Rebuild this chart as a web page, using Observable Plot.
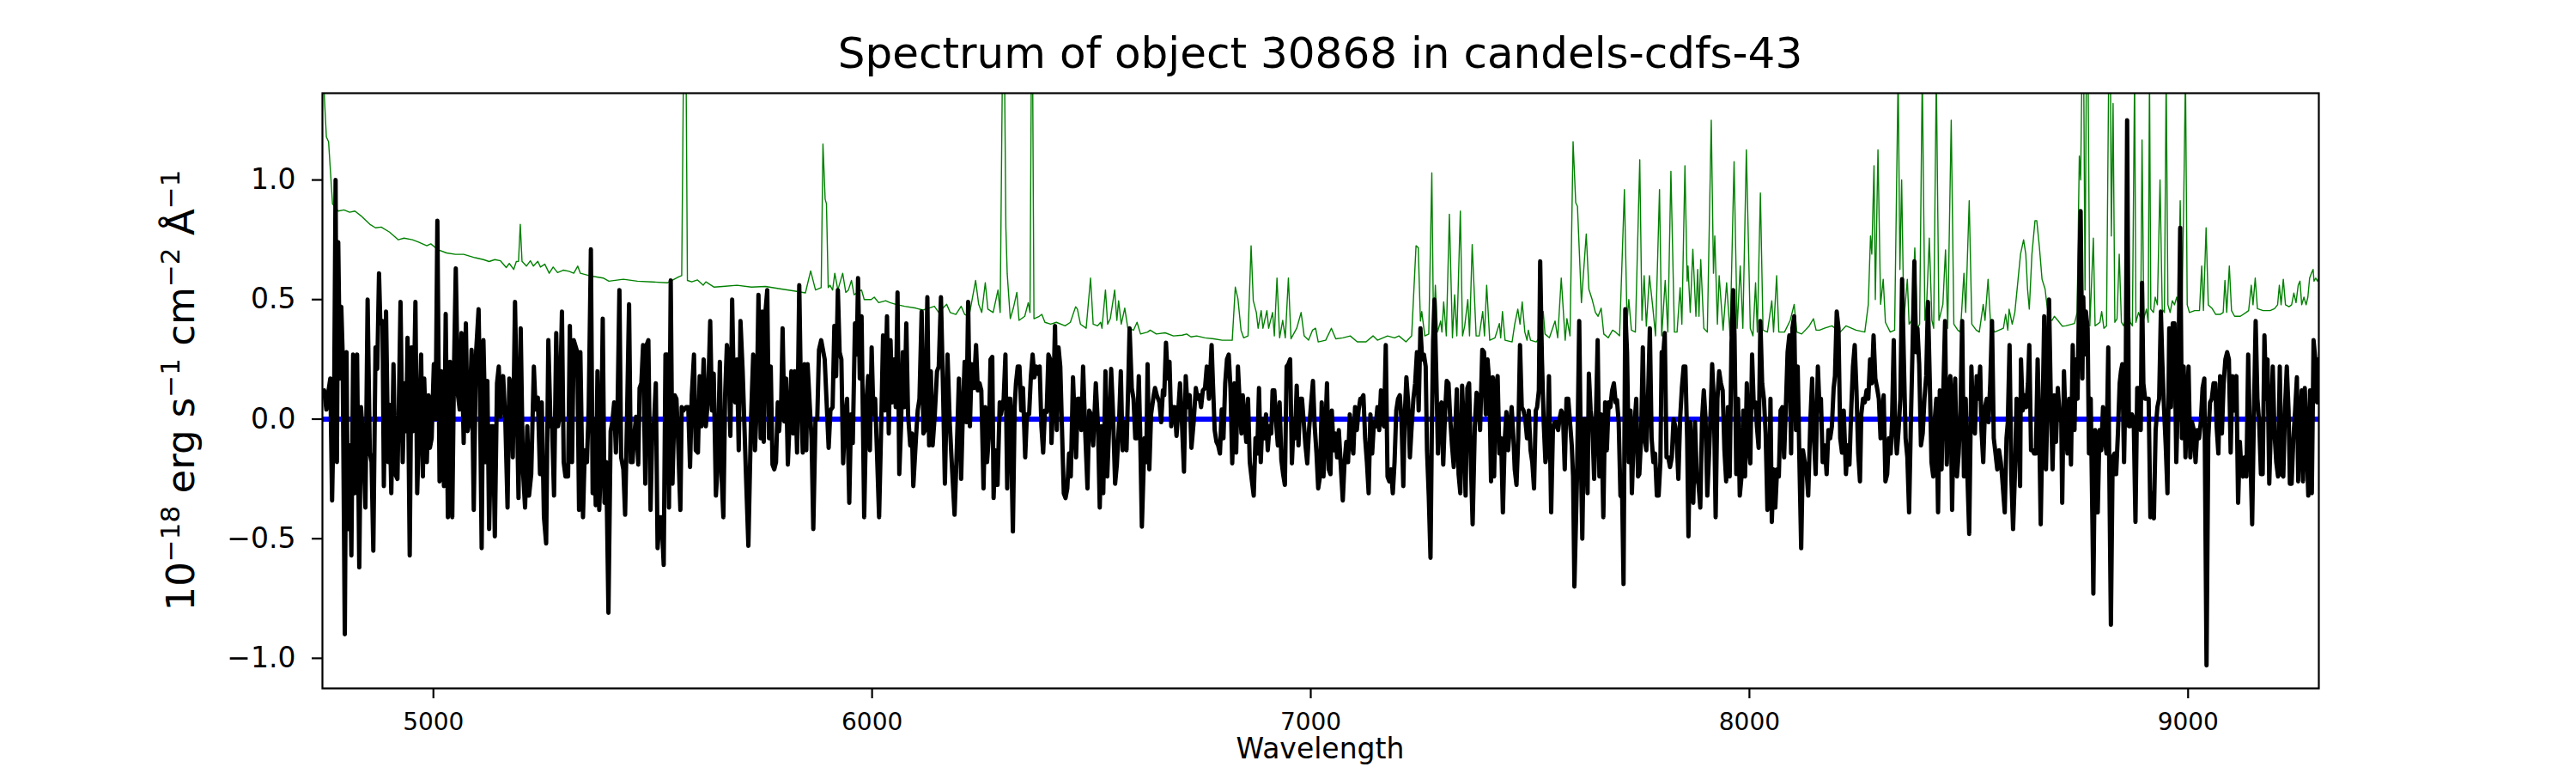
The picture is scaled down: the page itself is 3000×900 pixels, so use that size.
<!DOCTYPE html>
<html><head><meta charset="utf-8">
<script src="https://cdn.jsdelivr.net/npm/d3@7"></script>
<script src="https://cdn.jsdelivr.net/npm/@observablehq/plot@0.6"></script>
<style>
html,body{margin:0;padding:0;background:#fff;}
#chart{width:3000px;height:900px;}
</style></head><body><div id="chart"></div>
<script>
const titleText = "Spectrum of object 30868 in candels-cdfs-43";
const xLabelText = "Wavelength";
const xTicks = [5000, 6000, 7000, 8000, 9000];
const yTicks = [-1.0, -0.5, 0.0, 0.5, 1.0];
const xDomain = [4747, 9298];
const yDomain = [-1.126, 1.363];

// observed flux (black)
const flux = [
[4751,0.12],[4756,0.04],[4761,0.12],[4765,0.17],[4769,-0.34],[4774,0.17],[4777,1.00],[4780,-0.18],[4783,0.74],[4787,0.17],[4790,0.47],[4793,0.28],[4798,-0.90],[4802,0.28],[4805,-0.46],[4809,-0.11],[4813,-0.57],[4817,0.27],[4821,-0.31],[4826,0.27],[4831,-0.62],[4835,0.05],[4840,-0.10],[4845,-0.37],[4850,0.50],[4855,-0.14],[4859,-0.18],[4863,-0.55],[4868,0.30],[4872,0.21],[4876,0.61],[4879,0.40],[4884,0.41],[4887,-0.28],[4892,0.45],[4897,-0.18],[4900,0.06],[4904,-0.31],[4909,0.23],[4913,-0.23],[4918,-0.25],[4922,0.15],[4925,0.49],[4930,-0.18],[4934,0.15],[4938,-0.05],[4941,0.34],[4946,-0.57],[4950,0.30],[4954,-0.05],[4959,0.49],[4963,-0.31],[4967,-0.05],[4972,0.27],[4976,-0.24],[4979,0.17],[4985,-0.18],[4989,0.10],[4992,-0.12],[4996,-0.08],[5001,0.23],[5005,0.00],[5009,0.83],[5014,-0.26],[5018,0.20],[5024,-0.28],[5028,0.44],[5033,-0.41],[5038,0.24],[5043,-0.41],[5047,0.22],[5051,0.63],[5056,0.10],[5060,0.04],[5064,0.36],[5069,-0.10],[5074,0.40],[5078,-0.05],[5082,-0.01],[5087,0.29],[5092,-0.38],[5097,0.27],[5103,0.46],[5106,0.12],[5110,-0.54],[5114,0.33],[5120,-0.18],[5123,0.16],[5127,-0.46],[5132,-0.03],[5136,-0.03],[5140,-0.49],[5145,0.15],[5149,0.22],[5153,0.01],[5159,0.18],[5164,-0.01],[5169,-0.37],[5173,0.17],[5177,0.14],[5181,-0.16],[5186,0.49],[5190,0.09],[5194,-0.33],[5199,0.38],[5204,-0.21],[5209,-0.37],[5214,-0.03],[5218,-0.32],[5223,-0.23],[5229,0.22],[5233,0.04],[5238,0.09],[5243,-0.23],[5247,0.07],[5252,-0.41],[5257,-0.52],[5262,0.33],[5267,-0.03],[5270,0.00],[5275,-0.32],[5280,0.36],[5284,-0.03],[5288,0.02],[5293,0.45],[5297,-0.18],[5301,-0.24],[5307,-0.24],[5311,0.39],[5316,-0.18],[5320,0.33],
[5328,0.28],[5332,-0.38],[5335,0.28],[5341,-0.41],[5345,-0.13],[5350,-0.18],[5354,0.05],[5359,0.71],[5363,-0.31],[5367,0.00],[5370,-0.36],[5374,0.20],[5378,-0.38],[5382,-0.18],[5386,0.42],[5390,-0.35],[5394,-0.18],[5399,-0.81],[5404,-0.05],[5408,-0.01],[5412,0.07],[5416,-0.14],[5420,0.07],[5424,0.54],[5428,-0.16],[5433,-0.21],[5437,-0.40],[5441,-0.03],[5446,0.48],[5450,-0.18],[5454,-0.18],[5457,-0.08],[5462,0.01],[5467,-0.19],[5470,0.13],[5474,0.15],[5478,0.31],[5483,-0.27],[5486,0.31],[5490,0.33],[5495,-0.38],[5499,-0.05],[5503,-0.01],[5507,0.15],[5511,-0.54],[5516,-0.41],[5520,-0.41],[5525,-0.61],[5529,0.27],[5533,0.27],[5537,-0.37],[5541,0.58],[5545,-0.27],[5550,0.10],[5554,0.085],[5557,-0.05],[5563,-0.38],[5566,0.05],[5570,0.036],[5576,0.05],[5581,0.05],[5585,-0.20],[5589,0.10],[5594,0.27],[5598,-0.13],[5603,-0.14],[5607,0.18],[5611,-0.03],[5616,0.25],[5621,-0.03],[5626,0.085],[5631,0.41],[5635,0.036],[5639,0.19],[5644,-0.32],[5648,-0.19],[5653,0.24],[5657,-0.24],[5661,-0.41],[5665,0.10],[5669,0.31],[5673,0.25],[5677,-0.07],[5681,0.50],[5685,0.10],[5688,0.07],[5692,0.25],[5696,-0.13],[5700,0.41],[5705,0.20],[5709,-0.03],[5713,-0.26],[5718,-0.53],[5724,0.00],[5729,0.27],[5733,-0.13],[5737,0.05],[5741,0.52],[5746,-0.08],[5750,0.45],[5753,-0.095],[5757,0.45],[5761,0.54],[5765,-0.08],[5769,0.22],[5773,-0.19],[5777,-0.21],[5781,-0.18],[5785,0.07],[5788,-0.05],[5793,0.085],[5796,0.38],[5800,-0.01],[5804,0.17],[5808,-0.19],[5812,-0.01],[5816,0.20],[5820,-0.06],[5824,0.20],[5829,-0.14],[5834,0.56],[5838,0.085],[5842,-0.14],[5846,0.23],[5850,-0.13],[5853,0.23],[5859,0.02],[5862,-0.08],[5866,-0.46],[5871,0.00],[5875,0.00],[5879,0.29],[5884,0.33],
[5892,0.25],[5896,0.085],[5901,-0.12],[5905,0.036],[5910,0.05],[5914,0.39],[5918,0.18],[5922,0.54],[5926,0.28],[5930,0.25],[5934,-0.185],[5938,-0.01],[5943,0.085],[5948,-0.35],[5952,0.02],[5956,-0.10],[5961,0.40],[5965,0.27],[5968,0.59],[5972,0.17],[5976,0.43],[5982,-0.41],[5987,0.07],[5991,0.18],[5995,-0.13],[5999,0.30],[6003,0.02],[6007,0.085],[6011,-0.13],[6016,-0.41],[6021,-0.01],[6025,0.35],[6029,0.036],[6034,0.43],[6038,-0.06],[6042,0.33],[6046,0.07],[6050,0.25],[6054,0.05],[6058,0.53],[6062,-0.23],[6066,-0.03],[6070,0.28],[6074,0.05],[6078,0.40],[6082,0.02],[6087,-0.11],[6091,-0.06],[6094,-0.28],[6100,-0.08],[6104,0.036],[6108,0.085],[6113,0.45],[6117,-0.06],[6121,-0.046],[6126,0.51],[6130,-0.11],[6134,0.20],[6138,-0.11],[6143,0.02],[6148,0.20],[6152,0.22],[6157,0.51],[6162,0.10],[6166,-0.27],[6172,0.27],[6177,-0.013],[6181,-0.16],[6188,-0.40],[6192,-0.19],[6198,0.17],[6203,-0.25],[6207,0.036],[6211,0.24],[6215,-0.013],[6219,0.49],[6223,-0.03],[6227,0.23],[6232,0.13],[6237,0.31],[6241,0.12],[6245,0.15],[6249,0.12],[6254,-0.29],[6258,0.05],[6262,-0.18],[6266,-0.08],[6270,0.25],[6274,0.26],[6277,-0.33],[6281,-0.13],[6286,-0.275],[6291,0.07],[6294,0.02],[6300,0.085],[6304,0.27],[6308,-0.29],[6311,0.085],[6315,0.085],[6321,-0.47],[6325,0.05],[6328,0.15],[6332,0.22],[6336,0.22],[6340,0.036],[6344,0.13],[6349,-0.16],[6353,0.02],[6358,0.02],[6362,0.18],[6366,0.27],[6370,0.175],[6374,0.22],[6378,0.19],[6382,0.22],[6386,-0.03],[6390,-0.14],[6394,0.036],[6398,0.03],[6402,0.27],[6406,0.25],[6409,-0.10],[6413,0.085],[6417,0.39],[6421,-0.046],[6425,0.30],[6429,0.22],[6433,-0.046],[6437,-0.31],[6441,-0.33],[6445,-0.29],[6449,-0.144],[6453,-0.24],[6458,0.175],
[6465,-0.16],[6469,0.085],[6473,0.085],[6477,-0.046],[6481,0.22],[6486,-0.06],[6491,-0.29],[6495,0.036],[6499,0.02],[6504,-0.11],[6510,0.15],[6515,-0.03],[6519,-0.37],[6523,-0.03],[6527,-0.31],[6532,0.20],[6536,-0.24],[6541,-0.013],[6545,0.21],[6549,0.036],[6554,-0.27],[6558,-0.19],[6563,-0.013],[6567,0.20],[6571,-0.13],[6576,-0.013],[6580,-0.13],[6584,0.15],[6587,0.38],[6592,0.13],[6596,0.085],[6600,-0.08],[6604,-0.08],[6608,0.18],[6611,-0.046],[6615,-0.45],[6621,-0.08],[6625,-0.18],[6628,0.23],[6632,-0.21],[6636,0.02],[6642,0.10],[6645,0.13],[6649,0.10],[6655,0.07],[6659,-0.013],[6663,0.12],[6666,0.10],[6670,0.32],[6674,0.17],[6678,0.24],[6682,-0.03],[6686,0.05],[6690,0.05],[6694,-0.07],[6698,0.036],[6702,0.15],[6706,0.00],[6711,-0.22],[6715,0.18],[6719,0.05],[6724,0.10],[6728,-0.12],[6733,-0.013],[6738,0.13],[6742,0.085],[6746,0.10],[6750,0.05],[6754,0.12],[6759,0.13],[6763,0.22],[6768,0.085],[6774,0.31],[6777,0.15],[6781,-0.046],[6785,-0.095],[6789,-0.11],[6793,-0.144],[6797,0.04],[6801,-0.08],[6805,0.15],[6809,0.25],[6813,0.27],[6817,0.13],[6821,-0.185],[6826,0.15],[6830,-0.14],[6834,0.22],[6838,0.07],[6842,-0.06],[6845,0.10],[6849,0.00],[6853,-0.095],[6857,0.085],[6861,-0.18],[6866,-0.26],[6870,-0.32],[6874,-0.08],[6878,-0.144],[6882,0.13],[6886,-0.18],[6890,0.00],[6894,-0.08],[6898,0.02],[6902,-0.13],[6906,-0.03],[6910,-0.06],[6913,0.12],[6917,0.12],[6921,-0.013],[6925,-0.11],[6929,0.07],[6933,-0.17],[6937,-0.23],[6941,-0.275],[6945,0.22],[6949,0.23],[6953,0.25],[6957,-0.185],[6961,-0.013],[6964,-0.08],[6968,0.14],[6972,-0.11],[6976,0.085],[6980,0.085],[6984,-0.013],[6988,-0.11],[6992,-0.185],[6996,-0.046],[7001,0.07],[7005,0.16],[7009,-0.03],[7013,-0.14],[7017,-0.29],[7021,-0.24],[7025,0.07],
[7029,-0.24],[7033,-0.06],[7037,0.15],[7041,-0.21],[7045,-0.23],[7048,0.036],[7052,-0.13],[7056,-0.06],[7060,-0.16],[7064,-0.046],[7068,-0.18],[7073,-0.34],[7077,-0.18],[7081,-0.095],[7085,-0.18],[7089,0.02],[7093,-0.095],[7097,-0.144],[7101,0.05],[7105,-0.046],[7109,0.036],[7113,0.085],[7116,0.085],[7120,0.10],[7124,-0.08],[7128,-0.18],[7132,-0.31],[7136,0.02],[7140,-0.144],[7144,-0.013],[7148,-0.03],[7152,0.05],[7156,-0.046],[7160,0.12],[7163,-0.013],[7167,-0.03],[7171,0.31],[7175,-0.24],[7179,-0.26],[7183,-0.21],[7187,-0.31],[7191,-0.18],[7195,0.036],[7199,0.085],[7203,0.10],[7207,-0.013],[7211,-0.28],[7214,0.00],[7218,0.175],[7222,0.07],[7226,-0.16],[7230,-0.03],[7234,0.085],[7238,0.15],[7242,0.28],[7246,0.036],[7250,0.38],[7254,0.25],[7258,0.27],[7262,0.22],[7265,-0.13],[7269,-0.32],[7273,-0.58],[7276,-0.046],[7279,0.33],[7282,0.50],[7286,0.20],[7290,-0.144],[7294,0.05],[7298,0.07],[7302,-0.19],[7306,0.02],[7310,0.16],[7314,0.15],[7318,0.00],[7322,-0.11],[7326,-0.20],[7330,-0.013],[7333,0.125],[7337,-0.23],[7341,-0.31],[7345,0.14],[7349,-0.046],[7353,-0.32],[7357,0.13],[7361,0.15],[7365,-0.18],[7369,-0.44],[7374,-0.03],[7378,0.11],[7382,0.085],[7386,-0.046],[7391,0.29],[7395,0.28],[7399,0.02],[7403,0.25],[7407,0.15],[7411,-0.26],[7415,0.175],[7418,-0.24],[7422,0.13],[7426,0.18],[7430,-0.144],[7434,-0.08],[7438,-0.39],[7442,-0.095],[7446,0.03],[7450,-0.13],[7454,-0.03],[7458,0.05],[7462,-0.08],[7465,-0.21],[7469,-0.275],[7473,-0.08],[7477,0.31],[7481,0.05],[7485,0.036],[7489,0.00],[7493,-0.08],[7497,0.036],[7501,-0.13],[7505,-0.18],[7509,-0.29],[7513,0.036],[7516,0.05],[7520,0.12],[7523,0.66],[7527,0.25],[7531,-0.013],[7535,-0.18],[7539,-0.13],[7543,0.18],[7548,-0.39],[7552,-0.046],[7556,-0.013],[7560,-0.013],[7564,-0.046],[7567,0.00],[7571,0.036],[7575,0.02],[7579,-0.21],[7583,0.085],[7587,0.085],[7591,-0.013],[7595,-0.11],[7598,-0.24],[7601,-0.70],
[7607,-0.24],[7612,0.41],[7616,-0.18],[7619,-0.50],[7623,0.00],[7627,0.00],[7631,-0.31],[7634,0.19],[7638,0.036],[7642,-0.03],[7646,-0.25],[7650,0.00],[7654,0.33],[7658,-0.24],[7662,0.02],[7667,-0.41],[7671,0.07],[7675,-0.13],[7679,0.07],[7683,0.05],[7687,0.12],[7691,0.15],[7695,0.07],[7698,0.08],[7702,-0.013],[7706,-0.32],[7710,-0.33],[7713,-0.69],[7717,0.46],[7721,0.28],[7725,-0.18],[7729,0.036],[7732,-0.31],[7736,-0.08],[7742,0.085],[7746,-0.24],[7749,-0.23],[7753,-0.08],[7757,0.30],[7761,-0.08],[7765,-0.13],[7769,0.10],[7773,0.38],[7777,-0.08],[7781,-0.18],[7785,-0.144],[7789,-0.32],[7793,-0.32],[7797,-0.18],[7800,0.28],[7804,0.28],[7807,0.36],[7811,-0.16],[7815,-0.16],[7819,-0.20],[7823,-0.16],[7827,0.00],[7831,-0.03],[7834,-0.08],[7838,-0.25],[7842,0.00],[7846,0.13],[7850,0.22],[7854,0.22],[7858,-0.08],[7861,-0.49],[7865,-0.013],[7868,-0.144],[7872,-0.35],[7876,-0.013],[7880,-0.24],[7884,-0.275],[7888,-0.37],[7892,0.00],[7896,0.12],[7900,0.00],[7904,-0.32],[7908,-0.144],[7912,0.05],[7915,0.23],[7919,0.07],[7923,-0.41],[7927,0.085],[7931,0.20],[7935,0.15],[7939,0.12],[7943,-0.13],[7947,-0.26],[7951,0.05],[7955,-0.24],[7959,0.31],[7963,0.54],[7966,0.35],[7970,-0.23],[7974,0.085],[7978,-0.32],[7982,-0.24],[7986,0.036],[7990,-0.24],[7994,0.15],[7998,-0.11],[8002,-0.185],[8006,0.27],[8010,0.05],[8014,0.07],[8017,-0.03],[8021,-0.12],[8025,0.41],[8029,0.15],[8033,0.085],[8037,-0.06],[8041,-0.38],[8045,-0.32],[8048,0.085],[8051,-0.43],[8055,-0.21],[8059,-0.37],[8063,-0.21],[8067,-0.24],[8071,0.036],[8075,0.05],[8079,-0.16],[8083,0.05],[8087,0.28],[8091,0.35],[8095,-0.144],[8098,0.38],[8102,0.43],[8106,-0.046],[8110,0.22],[8114,-0.18],[8118,-0.54],[8122,-0.13],[8126,-0.18],[8130,-0.21],[8134,-0.32],[8139,0.00],[8143,0.17],[8147,-0.08],[8151,-0.23],[8156,0.22],
[8160,0.036],[8163,0.085],[8167,-0.18],[8172,-0.11],[8176,-0.23],[8180,-0.046],[8184,-0.08],[8188,-0.03],[8192,0.13],[8195,0.18],[8199,0.45],[8203,0.38],[8207,-0.08],[8211,-0.14],[8215,0.036],[8220,-0.23],[8224,-0.11],[8228,-0.19],[8232,0.036],[8236,0.22],[8240,0.31],[8244,0.12],[8248,-0.144],[8252,-0.26],[8255,0.02],[8259,0.085],[8263,0.07],[8267,0.12],[8271,0.085],[8275,0.25],[8279,0.15],[8283,0.35],[8287,0.17],[8291,0.13],[8295,0.085],[8299,-0.08],[8302,0.00],[8306,0.10],[8310,-0.26],[8314,-0.23],[8318,-0.08],[8322,-0.144],[8325,-0.013],[8329,0.33],[8332,-0.03],[8336,-0.144],[8340,-0.046],[8344,0.085],[8348,0.585],[8352,0.25],[8356,-0.08],[8360,-0.16],[8364,-0.39],[8368,-0.013],[8372,0.31],[8376,0.66],[8379,0.28],[8383,0.38],[8387,0.23],[8391,-0.11],[8395,-0.06],[8399,0.085],[8403,0.18],[8407,0.49],[8411,0.17],[8415,-0.18],[8419,-0.24],[8422,-0.013],[8426,0.085],[8430,-0.39],[8434,0.12],[8438,-0.21],[8442,0.12],[8446,0.41],[8450,-0.19],[8454,0.13],[8458,0.18],[8462,-0.38],[8466,0.085],[8469,0.17],[8473,-0.24],[8477,-0.144],[8481,0.036],[8485,0.41],[8489,-0.24],[8493,0.085],[8497,-0.24],[8501,-0.48],[8506,0.22],[8510,-0.013],[8514,-0.06],[8518,0.18],[8522,0.085],[8526,0.22],[8529,-0.046],[8533,-0.18],[8537,0.05],[8541,0.085],[8545,-0.013],[8549,0.15],[8553,0.41],[8557,-0.08],[8561,-0.144],[8565,-0.21],[8569,-0.13],[8573,-0.18],[8576,-0.24],[8582,-0.39],[8586,-0.08],[8589,-0.013],[8593,0.31],[8597,-0.24],[8601,-0.46],[8605,-0.24],[8609,0.085],[8613,0.02],[8617,-0.28],[8619,0.25],[8623,0.036],[8627,0.10],[8631,0.05],[8635,0.15],[8638,0.31],[8642,-0.13],[8646,-0.13],[8649,-0.144],[8653,-0.144],[8657,0.25],[8661,-0.08],[8664,-0.44],[8668,-0.013],[8672,0.43],[8676,-0.21],[8680,0.12],[8683,0.50],[8687,0.085],[8691,-0.21],[8695,0.10],[8699,-0.095],[8703,0.13],[8707,0.02],[8711,-0.013],[8713,-0.35],[8717,0.20],[8721,-0.03],[8725,-0.144],[8729,0.085],
[8733,-0.19],[8737,0.31],[8741,-0.046],[8744,0.25],[8748,0.085],[8752,0.58],[8755,0.87],[8759,0.17],[8761,0.51],[8764,0.27],[8767,0.45],[8771,0.38],[8774,-0.144],[8778,0.085],[8782,-0.44],[8784,-0.73],[8788,-0.046],[8791,-0.16],[8794,-0.39],[8798,-0.046],[8802,-0.13],[8806,0.05],[8810,-0.08],[8814,-0.144],[8818,0.30],[8820,-0.144],[8824,-0.86],[8828,-0.16],[8832,-0.144],[8836,-0.23],[8840,-0.06],[8844,0.15],[8847,0.20],[8850,0.23],[8854,-0.18],[8858,0.22],[8861,1.25],[8865,-0.03],[8868,-0.03],[8872,0.02],[8876,0.00],[8880,-0.43],[8884,0.13],[8888,0.13],[8892,-0.046],[8895,0.57],[8898,0.15],[8902,0.085],[8906,0.085],[8910,0.085],[8914,-0.41],[8918,-0.31],[8922,-0.415],[8926,-0.046],[8930,0.05],[8934,0.085],[8938,0.45],[8941,0.25],[8945,0.05],[8949,-0.11],[8953,-0.31],[8957,0.38],[8961,0.05],[8965,0.40],[8969,0.40],[8973,-0.18],[8977,0.085],[8982,0.80],[8986,-0.08],[8990,0.22],[8994,-0.16],[8998,0.085],[9001,0.22],[9005,-0.16],[9009,-0.013],[9013,-0.046],[9017,-0.18],[9021,-0.046],[9025,-0.08],[9029,-0.013],[9033,0.13],[9037,0.17],[9042,-1.03],[9046,-0.08],[9050,0.07],[9054,0.085],[9058,0.15],[9062,0.15],[9065,-0.03],[9069,-0.144],[9073,0.18],[9077,-0.06],[9081,0.15],[9085,0.25],[9089,0.28],[9093,0.25],[9097,-0.14],[9101,0.18],[9106,0.036],[9110,0.18],[9114,-0.35],[9118,-0.095],[9122,-0.23],[9125,-0.24],[9129,-0.16],[9133,-0.24],[9137,0.27],[9142,-0.144],[9146,-0.44],[9150,0.02],[9154,0.41],[9158,0.085],[9162,-0.013],[9166,-0.23],[9170,-0.23],[9174,0.35],[9178,0.085],[9181,0.25],[9185,-0.27],[9189,-0.013],[9193,0.22],[9197,-0.06],[9201,-0.18],[9205,-0.24],[9209,0.22],[9213,-0.23],[9217,-0.24],[9221,0.05],[9225,0.22],[9229,0.036],[9232,-0.27],[9236,-0.27],[9240,-0.08],[9244,0.036],[9248,0.175],[9251,-0.26],[9255,-0.046],[9259,0.12],[9262,-0.26],[9266,0.13],[9270,-0.08],[9274,-0.32],[9278,0.12],[9282,-0.31],[9286,0.33],[9290,0.25],[9294,0.07],[9297,0.25]
];

// flux uncertainty / sky (green)
const fluxError = [
[4747,1.45],[4751,1.36],[4756,1.18],[4761,1.16],[4770,0.90],[4783,0.87],[4796,0.875],[4809,0.865],[4821,0.87],[4835,0.85],[4855,0.815],[4868,0.80],[4881,0.803],[4900,0.782],[4920,0.75],[4933,0.757],[4952,0.75],[4965,0.741],[4985,0.725],[4994,0.733],[5011,0.708],[5030,0.695],[5050,0.689],[5069,0.689],[5095,0.675],[5114,0.667],[5127,0.659],[5140,0.667],[5153,0.662],[5166,0.634],[5173,0.651],[5183,0.626],[5189,0.659],[5194,0.66],[5198,0.815],[5202,0.66],[5212,0.64],[5221,0.662],[5228,0.64],[5238,0.66],[5244,0.636],[5254,0.648],[5264,0.61],[5273,0.636],[5283,0.613],[5296,0.623],[5309,0.618],[5320,0.61],
[5329,0.64],[5335,0.61],[5355,0.60],[5387,0.59],[5400,0.577],[5433,0.585],[5465,0.577],[5498,0.574],[5533,0.57],[5559,0.595],[5566,0.60],[5570,1.45],[5576,1.45],[5579,0.58],[5589,0.574],[5602,0.582],[5615,0.56],[5621,0.574],[5640,0.552],[5660,0.555],[5692,0.56],[5725,0.552],[5757,0.555],[5790,0.545],[5822,0.536],[5848,0.528],[5860,0.62],[5871,0.54],[5884,0.55],
[5888,1.15],[5893,0.92],[5896,0.90],[5900,0.55],[5904,0.56],[5910,0.54],[5915,0.61],[5922,0.54],[5933,0.61],[5940,0.53],[5946,0.54],[5953,0.58],[5959,0.52],[5976,0.54],[5982,0.50],[5998,0.50],[6005,0.51],[6015,0.487],[6031,0.495],[6041,0.487],[6054,0.48],[6074,0.472],[6100,0.464],[6116,0.456],[6129,0.464],[6142,0.472],[6152,0.446],[6170,0.48],[6178,0.446],[6191,0.438],[6203,0.472],[6211,0.438],[6221,0.43],[6236,0.58],[6243,0.48],[6250,0.446],[6258,0.57],[6264,0.46],[6276,0.446],[6287,0.54],[6292,0.446],[6297,1.45],[6302,1.45],[6305,0.8],[6308,0.61],[6315,0.42],[6322,0.464],[6330,0.53],[6335,0.413],[6348,0.43],[6356,0.487],[6360,0.446],[6363,1.45],[6366,1.45],[6369,0.42],[6381,0.43],[6387,0.438],[6394,0.405],[6407,0.397],[6420,0.405],[6440,0.39],
[6452,0.405],[6464,0.47],[6468,0.46],[6475,0.397],[6488,0.38],[6498,0.59],[6504,0.397],[6514,0.39],[6521,0.405],[6524,0.38],[6532,0.54],[6537,0.397],[6543,0.42],[6553,0.54],[6558,0.413],[6562,0.495],[6568,0.397],[6576,0.464],[6583,0.38],[6596,0.372],[6604,0.405],[6612,0.356],[6628,0.364],[6634,0.372],[6648,0.356],[6668,0.361],[6687,0.348],[6707,0.351],[6717,0.356],[6727,0.344],[6740,0.348],[6759,0.34],[6779,0.336],[6798,0.33],[6821,0.33],[6828,0.552],[6834,0.503],[6841,0.372],[6847,0.34],[6857,0.348],[6864,0.725],[6869,0.495],[6876,0.446],[6880,0.38],[6887,0.454],[6891,0.38],[6900,0.454],[6904,0.38],[6913,0.446],[6917,0.348],[6923,0.59],[6929,0.34],[6936,0.413],[6942,0.34],[6949,0.59],[6955,0.336],[6968,0.38],[6978,0.446],[6985,0.348],[6995,0.33],[7004,0.372],[7011,0.38],[7017,0.323],
[7034,0.33],[7047,0.38],[7057,0.336],[7073,0.34],[7090,0.348],[7106,0.323],[7126,0.323],[7142,0.348],[7152,0.33],[7175,0.348],[7191,0.34],[7201,0.348],[7217,0.323],[7230,0.348],[7240,0.725],[7245,0.717],[7250,0.41],[7253,0.45],[7260,0.348],[7269,0.356],[7276,1.03],[7280,0.348],[7284,0.56],[7289,0.364],[7296,0.41],[7299,0.364],[7303,0.49],[7309,0.348],[7316,0.857],[7323,0.34],[7328,0.52],[7333,0.348],[7341,0.87],[7346,0.348],[7351,0.39],[7358,0.50],[7362,0.348],[7368,0.73],[7377,0.348],[7384,0.348],[7392,0.45],[7396,0.348],[7401,0.56],[7408,0.33],[7420,0.34],[7430,0.40],[7433,0.34],[7437,0.45],[7443,0.33],[7459,0.323],[7465,0.397],[7472,0.46],[7477,0.397],[7482,0.49],[7488,0.364],[7493,0.33],[7496,0.372],[7501,0.33],[7514,0.323],[7524,0.348],[7530,0.45],[7534,0.356],[7544,0.34],[7557,0.41],[7563,0.34],[7571,0.59],[7580,0.33],[7584,0.42],[7591,0.348],
[7598,1.16],[7604,0.905],[7608,0.89],[7617,0.487],[7628,0.774],[7634,0.543],[7641,0.503],[7649,0.446],[7655,0.43],[7662,0.464],[7668,0.356],[7678,0.34],[7688,0.372],[7695,0.364],[7704,0.348],[7715,0.96],[7721,0.405],[7725,0.50],[7731,0.372],[7740,0.364],[7750,1.085],[7755,0.413],[7760,0.60],[7765,0.389],[7772,0.60],[7780,0.462],[7786,0.348],[7795,0.96],[7800,0.348],[7808,0.58],[7814,0.364],[7821,1.036],[7829,0.364],[7835,0.364],[7842,0.55],[7846,0.397],[7853,1.06],[7858,0.577],[7860,0.64],[7865,0.446],[7871,0.71],[7878,0.43],[7882,0.626],[7885,0.43],[7889,0.667],[7896,0.38],[7904,0.364],[7913,1.25],[7918,0.61],[7921,0.766],[7927,0.397],[7931,0.60],[7940,0.372],[7948,0.57],[7956,0.348],[7965,1.077],[7972,0.38],[7979,0.64],[7985,0.38],[7993,1.126],[8002,0.38],[8008,0.348],[8014,0.57],[8018,0.364],[8025,0.946],[8031,0.372],[8041,0.364],[8051,0.495],[8055,0.364],[8062,0.60],[8067,0.364],[8080,0.364],[8093,0.413],[8102,0.48],[8108,0.364],[8119,0.356],[8136,0.389],[8146,0.42],[8152,0.372],
[8160,0.372],[8171,0.38],[8188,0.39],[8207,0.364],[8220,0.39],[8243,0.372],[8263,0.364],[8271,0.48],[8276,0.766],[8279,0.69],[8284,1.06],[8287,0.50],[8293,1.126],[8299,0.48],[8305,0.585],[8310,0.405],[8321,0.364],[8331,0.372],[8339,1.45],[8343,0.626],[8347,1.0],[8352,0.413],[8360,0.585],[8364,0.397],[8370,0.413],[8377,0.716],[8383,0.38],[8388,0.397],[8394,1.45],[8400,0.413],[8404,0.48],[8410,0.757],[8416,0.413],[8420,0.38],[8426,1.45],[8432,0.413],[8441,0.48],[8447,0.708],[8452,0.38],[8460,1.25],[8466,0.397],[8475,0.372],[8481,0.364],[8489,0.61],[8493,0.446],[8501,0.913],[8507,0.397],[8517,0.372],[8524,0.364],[8533,0.48],[8537,0.413],[8544,0.585],[8550,0.389],[8559,0.364],[8579,0.38],[8584,0.438],[8589,0.372],[8592,0.46],[8599,0.397],[8605,0.446],[8612,0.577],[8618,0.69],[8625,0.75],[8630,0.69],[8634,0.544],[8638,0.46],[8644,0.69],[8651,0.83],[8655,0.83],[8661,0.72],[8667,0.585],[8674,0.544],[8678,0.48],[8683,0.42],[8690,0.413],[8695,0.43],[8703,0.413],[8713,0.389],
[8721,0.39],[8741,0.40],[8747,0.446],[8752,1.10],[8755,1.0],[8758,1.45],[8762,1.45],[8765,0.54],[8768,1.45],[8772,1.45],[8776,0.39],[8784,0.757],[8788,0.39],[8799,0.405],[8803,0.45],[8808,0.38],[8814,0.39],[8819,1.45],[8823,1.45],[8825,0.766],[8829,1.32],[8833,0.405],[8838,0.42],[8843,0.69],[8848,0.405],[8853,0.39],[8858,0.42],[8863,0.52],[8868,0.405],[8873,0.39],[8878,1.45],[8881,0.405],[8887,0.446],[8892,0.42],[8895,1.167],[8899,0.42],[8905,0.46],[8909,0.405],[8912,1.45],[8915,0.46],[8921,0.446],[8925,0.51],[8930,0.478],[8936,1.0],[8941,0.46],[8946,0.446],[8950,1.45],[8954,0.478],[8959,0.446],[8964,0.495],[8969,0.478],[8974,0.51],[8978,0.478],[8982,0.913],[8986,0.446],[8990,0.905],[8994,1.45],[8998,0.478],[9003,0.446],[9015,0.454],[9026,0.454],[9031,0.64],[9035,0.454],[9041,0.80],[9046,0.478],[9055,0.462],[9063,0.438],[9073,0.438],[9080,0.446],[9084,0.58],[9088,0.446],[9094,0.64],[9099,0.454],[9106,0.43],[9119,0.43],[9132,0.446],[9138,0.454],[9144,0.56],[9148,0.478],[9153,0.59],[9158,0.462],[9171,0.454],[9187,0.454],[9197,0.462],[9204,0.478],[9208,0.56],[9212,0.478],[9217,0.585],[9222,0.478],[9230,0.47],[9236,0.478],[9241,0.527],[9246,0.487],[9251,0.56],[9255,0.577],[9259,0.478],[9264,0.51],[9269,0.478],[9273,0.51],[9277,0.59],[9281,0.61],[9285,0.626],[9287,0.577],[9291,0.59],[9295,0.577],[9298,0.59]
];

// model (blue)
const model = [[4747, 0], [9298, 0]];

const W = 3000, H = 900, mL = 375, mR = 300, mT = 108, mB = 99;
const fmtY = d => (d < 0 ? "\u2212" : "") + Math.abs(d).toFixed(1);

const chart = Plot.plot({
  width: W, height: H,
  marginLeft: mL, marginRight: mR, marginTop: mT, marginBottom: mB,
  style: {fontFamily: "DejaVu Sans", background: "white", color: "black", overflow: "visible"},
  x: {domain: xDomain},
  y: {domain: yDomain},
  marks: [
    Plot.line(fluxError, {x: d => d[0], y: d => d[1], stroke: "#008000", strokeWidth: 1.4, clip: true}),
    Plot.line(model, {x: d => d[0], y: d => d[1], stroke: "#0000ff", strokeWidth: 6, clip: true}),
    Plot.line(flux, {x: d => d[0], y: d => d[1], stroke: "black", strokeWidth: 5, clip: true}),
    Plot.frame({stroke: "black", strokeWidth: 2.2}),
    Plot.axisX({ticks: xTicks, tickFormat: d => String(d), tickSize: 12, tickPadding: 17, fontSize: 28, strokeWidth: 2.2, label: null}),
    Plot.axisY({ticks: yTicks, tickFormat: fmtY, tickSize: 12, tickPadding: 19, fontSize: 33, strokeWidth: 2.2, label: null})
  ]
});

document.getElementById("chart").appendChild(chart);

const svg = d3.select(chart);
const cx = (mL + (W - mR)) / 2;
svg.append("text")
  .attr("x", cx).attr("y", 79)
  .attr("text-anchor", "middle")
  .style("font-family", "DejaVu Sans").style("font-size", "50px").attr("fill", "black")
  .text(titleText);
svg.append("text")
  .attr("x", cx).attr("y", 883)
  .attr("text-anchor", "middle")
  .style("font-family", "DejaVu Sans").style("font-size", "33px").attr("fill", "black")
  .text(xLabelText);

const yLabelParts = [["10", false], ["\u221218", true], [" erg s", false], ["\u22121", true], [" cm", false], ["\u22122", true], [" \u00c5", false], ["\u22121", true]];
const yl = svg.append("text")
  .attr("transform", `translate(226, ${(mT + H - mB) / 2}) rotate(-90)`)
  .attr("text-anchor", "middle")
  .style("font-family", "DejaVu Sans").style("font-size", "45px").attr("fill", "black");
let raised = false;
for (const [t, sup] of yLabelParts) {
  const ts = yl.append("tspan").text(t);
  if (sup) { ts.style("font-size", "31px"); if (!raised) ts.attr("dy", -17); raised = true; }
  else { if (raised) ts.attr("dy", 17); raised = false; }
}
</script>
</body></html>
